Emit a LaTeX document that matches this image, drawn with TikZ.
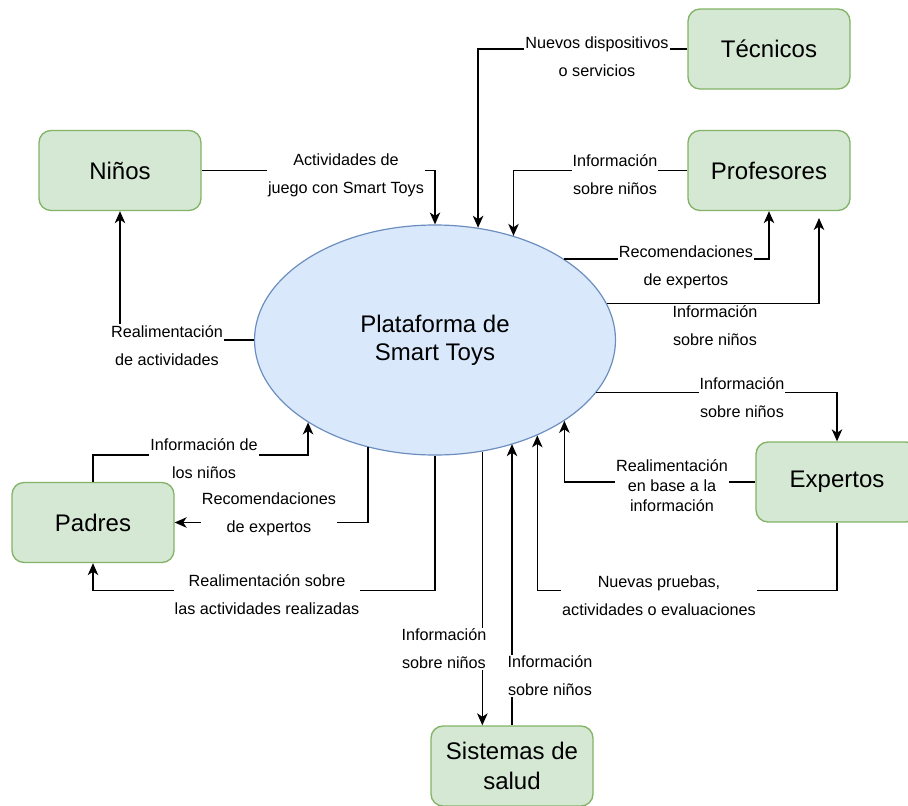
\documentclass[tikz,border=0pt]{standalone}
\usepackage{fontspec}
\setmainfont{Liberation Sans}
\usetikzlibrary{arrows.meta,shapes.geometric}
\definecolor{boxfill}{HTML}{D5E8D4}
\definecolor{boxline}{HTML}{82B366}
\definecolor{elfill}{HTML}{DAE8FC}
\definecolor{elline}{HTML}{6C8EBF}
\begin{document}
\begin{tikzpicture}[x=1pt,y=-1pt,
 entity/.style={draw=boxline, fill=boxfill, line width=1.35pt, rounded corners=12pt,
   minimum width=162pt, minimum height=80pt, align=center,
   font=\fontsize{24}{30}\selectfont, inner sep=0pt},
 proc/.style={ellipse, draw=elline, fill=elfill, line width=1.2pt,
   minimum width=361pt, minimum height=230pt, align=center,
   font=\fontsize{24}{28}\selectfont, inner sep=0pt},
 flow/.style={line width=1.35pt, -{Stealth[length=12pt,width=10.5pt,inset=3.5pt]}},
 lbl/.style={fill=white, align=center, inner sep=1pt, font=\fontsize{16.2}{28}\selectfont},
 lbltight/.style={fill=white, align=center, inner sep=1pt, font=\fontsize{16.2}{20}\selectfont}]
\useasboundingbox (0,0) rectangle (908,806);
\clip (0,0) rectangle (908,806);

% nodes
\node[entity] (tec) at (769,49) {Técnicos};
\node[entity] (nin) at (120,170.5) {Niños};
\node[entity] (pro) at (769,170.5) {Profesores};
\node[entity] (pad) at (93,522.5) {Padres};
\node[entity] (exp) at (837,482) {Expertos};
\node[entity] (sis) at (512,766) {Sistemas de\\salud};
\node[proc] (E) at (435,340) {Plataforma de\\Smart Toys};
\coordinate (pro2) at (819,218);

% connectors
\draw[flow] (tec.west) -| (E.69.4);
\draw[flow] (pro.west) -| (E.53.1);
\draw[flow] (nin.east) -| (E.north);
\draw[flow] (E.west) -| (nin.south);
\draw[flow] (E.32.9) -| (pro.south);
\draw[flow] (E.12.56) -| (pro2);
\draw[flow] (E.-18.28) -| (exp.north);
\draw[flow] (exp.west) -| (E.-32.79);
\draw[flow] (exp.south) -- ++(0,68) -| (E.-43.35);
\draw[flow] (sis.north) -- (sis.north |- E.-53.5);
\draw[flow] (E.-67.53) -- (E.-67.53 |- sis.north);
\draw[flow] (E.-122.55) |- (pad.east);
\draw[flow] (E.south) -- ++(0,135) -| (pad.south);
\draw[flow] (pad.north) -- ++(0,-27) -| (E.-147.2);

% labels
\node[lbl] (l1) at (597,56.5) {Nuevos dispositivos\\o servicios};
\node[lbl] (l2) at (615,174.5) {Información\\sobre niños};
\node[lbl] (l3) at (346,175.5) {Actividades de\\juego con Smart Toys};
\node[lbl] (l4) at (167,345.5) {Realimentación\\de actividades};
\node[lbl] (l5) at (686,267.5) {Recomendaciones\\de expertos};
\node[lbl] (l6) at (715,326) {Información\\sobre niños};
\node[lbl] (l7) at (742,397.5) {Información\\sobre niños};
\node[lbltight] (l8) at (672,486) {Realimentación\\en base a la\\información};
\node[lbl] (l9) at (659,595.5) {Nuevas pruebas,\\actividades o evaluaciones};
\node[lbl] (l10) at (550,676) {Información\\sobre niños};
\node[lbl] (l11) at (444,649) {Información\\sobre niños};
\node[lbl] (l12) at (269,514.5) {Recomendaciones\\de expertos};
\node[lbl] (l13) at (267,594.5) {Realimentación sobre\\las actividades realizadas};
\node[lbl] (l14) at (204,459) {Información de\\los niños};
\end{tikzpicture}
\end{document}
